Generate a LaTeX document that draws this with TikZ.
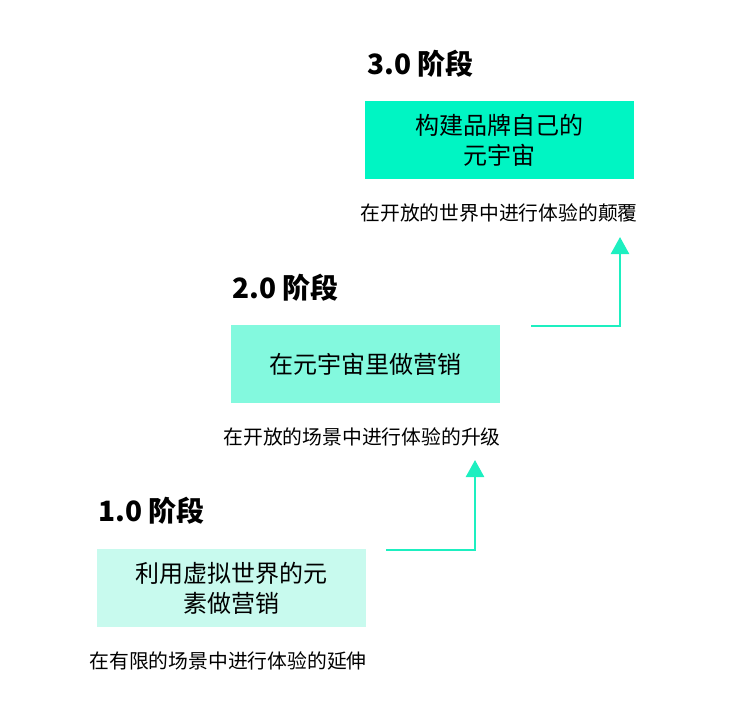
\documentclass[tikz,border=0pt]{standalone}
\usepackage{fontspec}
\setmainfont{Noto Sans CJK SC}
\usetikzlibrary{arrows.meta}
\definecolor{cthree}{HTML}{00F5C3}
\definecolor{ctwo}{HTML}{83F9DE}
\definecolor{cone}{HTML}{C8FAEE}
\definecolor{carrow}{HTML}{1DEFC0}
\tikzset{
  stagebox/.style={minimum width=269pt,minimum height=78pt,inner sep=0pt,align=center,font=\fontsize{24}{30}\selectfont},
  stagetitle/.style={anchor=west,inner sep=0pt,font=\fontsize{28}{32}\selectfont\bfseries},
  caption/.style={anchor=center,inner sep=0pt,font=\fontsize{19.8}{24}\selectfont},
  uparrow/.style={draw=carrow,line width=2.5pt,-{Triangle[width=18pt,length=17pt]}}
}
\begin{document}
\begin{tikzpicture}[x=1pt,y=-1pt]
\useasboundingbox (0,0) rectangle (744,701);
% stage 3
\node[stagetitle] (t3) at (367,64) {3.0 阶段};
\node[stagebox,fill=cthree] (b3) at (499.5,140) {构建品牌自己的\\元宇宙};
\node[caption] (c3) at (499,213) {在开放的世界中进行体验的颠覆};
% stage 2
\node[stagetitle] (t2) at (232,288) {2.0 阶段};
\node[stagebox,fill=ctwo] (b2) at (365,364) {在元宇宙里做营销};
\node[caption] (c2) at (362,437) {在开放的场景中进行体验的升级};
% stage 1
\node[stagetitle] (t1) at (98,511) {1.0 阶段};
\node[stagebox,fill=cone] (b1) at (231.5,588) {利用虚拟世界的元\\素做营销};
\node[caption] (c1) at (228,661) {在有限的场景中进行体验的延伸};
% arrows
\coordinate (s2) at (531,326);
\coordinate (e2) at (620,237);
\draw[uparrow] (s2) -| (e2);
\coordinate (s1) at (386,550);
\coordinate (e1) at (475,460);
\draw[uparrow] (s1) -| (e1);
\end{tikzpicture}
\end{document}
